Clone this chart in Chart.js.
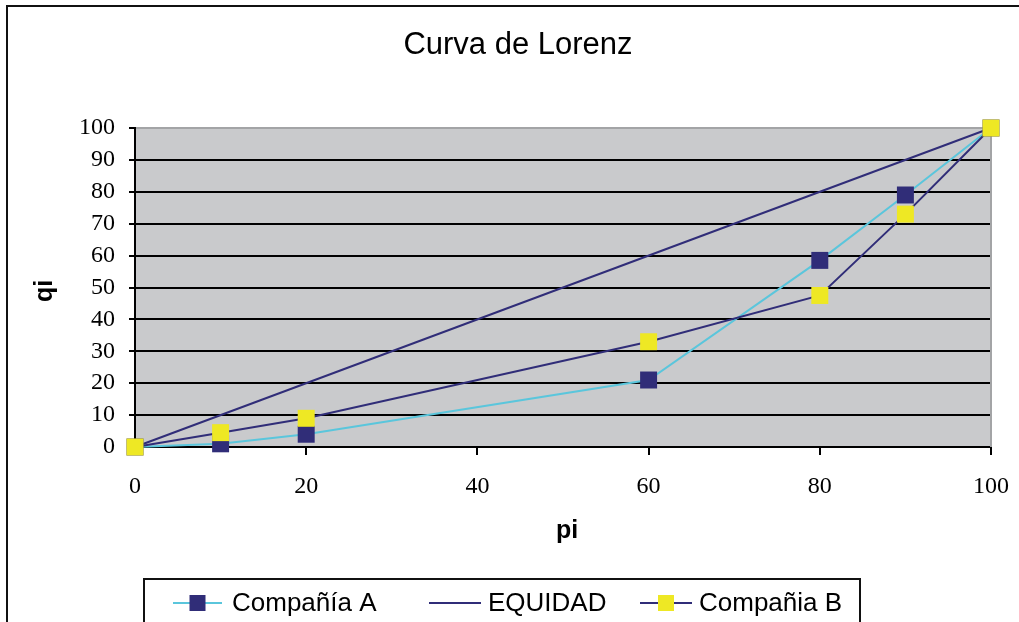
<!DOCTYPE html>
<html>
<head>
<meta charset="utf-8">
<script src="https://cdn.jsdelivr.net/npm/chart.js@4/dist/chart.umd.min.js"></script>
<style>
  html, body { margin: 0; padding: 0; background: #ffffff; }
  #wrap { width: 1019px; height: 622px; position: relative; }
</style>
</head>
<body>
<div id="wrap"><canvas id="c" width="1019" height="622"></canvas></div>
<script>
// ---- data ----
const pi = [0, 10, 20, 60, 80, 90, 100];
const companiaA = [0, 1, 4, 21, 58.5, 79, 100];
const companiaB = [0, 4.5, 9, 33, 47.5, 73, 100];
const equidadX = [0, 100];
const equidadY = [0, 100];
const seriesNames = ['Compañía A', 'EQUIDAD', 'Compañia B'];
const chartTitle = 'Curva de Lorenz';
const xTitle = 'pi';
const yTitle = 'qi';

const NAVY = '#302d78';
const CYAN = '#5ac6dc';
const YELLOW = '#eee824';
const PLOT_BG = '#c9cacc';

function pts(xs, ys) { return xs.map((x, i) => ({ x: x, y: ys[i] })); }

const decor = {
  id: 'decor',
  beforeDraw(chart) {
    const ctx = chart.ctx, a = chart.chartArea;
    ctx.save();
    ctx.fillStyle = '#ffffff';
    ctx.fillRect(0, 0, chart.width, chart.height);
    ctx.fillStyle = PLOT_BG;
    ctx.fillRect(a.left, a.top, a.right - a.left, a.bottom - a.top);
    ctx.restore();
  },
  beforeDatasetsDraw(chart) {
    const ctx = chart.ctx, a = chart.chartArea;
    ctx.save();
    ctx.strokeStyle = '#a3a4a6';
    ctx.lineWidth = 2;
    ctx.beginPath();
    ctx.moveTo(a.right, a.top);
    ctx.lineTo(a.right, a.bottom);
    ctx.stroke();
    ctx.restore();
  },
  afterDraw(chart) {
    const ctx = chart.ctx;
    ctx.save();
    // outer frame
    ctx.strokeStyle = '#111111';
    ctx.lineWidth = 2;
    ctx.strokeRect(7, 6, 1040, 660);
    // title
    ctx.fillStyle = '#000';
    ctx.textAlign = 'center';
    ctx.textBaseline = 'middle';
    ctx.font = '31px "Liberation Sans", Arial, sans-serif';
    ctx.fillText(chartTitle, 518, 45);
    // axis titles
    ctx.font = 'bold 25px "Liberation Sans", Arial, sans-serif';
    ctx.fillText(xTitle, 567, 531);
    ctx.save();
    ctx.translate(45, 291);
    ctx.rotate(-Math.PI / 2);
    ctx.fillText(yTitle, 0, 0);
    ctx.restore();
    // legend box
    ctx.strokeStyle = '#111111';
    ctx.lineWidth = 2;
    ctx.strokeRect(144, 579, 716, 80);
    const ly = 603;
    const items = [
      { x0: 173, x1: 222, line: CYAN, marker: NAVY, tx: 232 },
      { x0: 429, x1: 481, line: NAVY, marker: null, tx: 488 },
      { x0: 640, x1: 692, line: NAVY, marker: YELLOW, tx: 699 }
    ];
    ctx.font = '26px "Liberation Sans", Arial, sans-serif';
    ctx.textAlign = 'left';
    items.forEach((it, i) => {
      ctx.strokeStyle = it.line;
      ctx.lineWidth = 2;
      ctx.beginPath();
      ctx.moveTo(it.x0, ly);
      ctx.lineTo(it.x1, ly);
      ctx.stroke();
      if (it.marker) {
        const cx = (it.x0 + it.x1) / 2;
        ctx.fillStyle = it.marker;
        ctx.fillRect(cx - 8, ly - 8, 16, 16);
      }
      ctx.fillStyle = '#000';
      ctx.fillText(seriesNames[i], it.tx, ly + 1);
    });
    ctx.restore();
  }
};

new Chart(document.getElementById('c'), {
  type: 'scatter',
  data: {
    datasets: [
      {
        label: seriesNames[0],
        data: pts(pi, companiaA),
        showLine: true,
        clip: false,
        borderColor: CYAN,
        borderWidth: 2,
        pointStyle: 'rect',
        pointRadius: 12,
        pointBackgroundColor: NAVY,
        pointBorderColor: NAVY,
        pointBorderWidth: 0,
        order: 1
      },
      {
        label: seriesNames[1],
        data: pts(equidadX, equidadY),
        showLine: true,
        clip: false,
        borderColor: NAVY,
        borderWidth: 2,
        pointRadius: 0,
        order: 2
      },
      {
        label: seriesNames[2],
        data: pts(pi, companiaB),
        showLine: true,
        clip: false,
        borderColor: NAVY,
        borderWidth: 2,
        pointStyle: 'rect',
        pointRadius: 12,
        pointBackgroundColor: YELLOW,
        pointBorderColor: YELLOW,
        pointBorderWidth: 0,
        order: 0
      }
    ]
  },
  options: {
    responsive: false,
    animation: false,
    layout: { padding: { top: 128, right: 28, left: 0, bottom: 0 } },
    plugins: {
      legend: { display: false },
      title: { display: false },
      tooltip: { enabled: false }
    },
    scales: {
      x: {
        type: 'linear',
        min: 0, max: 100,
        afterFit: s => { s.height = 175; s.paddingRight = 0; s.paddingLeft = 0; },
        border: { display: true, color: '#000', width: 2 },
        grid: { drawOnChartArea: false, drawTicks: true, tickLength: 8, tickColor: '#000', lineWidth: 2 },
        ticks: {
          stepSize: 20,
          padding: 17,
          color: '#000',
          font: { family: '"Liberation Serif", "Times New Roman", serif', size: 24 }
        }
      },
      y: {
        min: 0, max: 100,
        afterFit: s => { s.width = 135; s.paddingTop = 0; s.paddingBottom = 0; },
        border: { display: true, color: '#000', width: 2 },
        grid: {
          drawOnChartArea: true,
          tickLength: 6,
          tickColor: '#000',
          lineWidth: 2,
          color: c => (c.tick && c.tick.value === 100) ? '#a3a4a6' : '#000'
        },
        ticks: {
          stepSize: 10,
          padding: 14,
          color: '#000',
          font: { family: '"Liberation Serif", "Times New Roman", serif', size: 24 }
        }
      }
    }
  },
  plugins: [decor]
});
</script>
</body>
</html>
